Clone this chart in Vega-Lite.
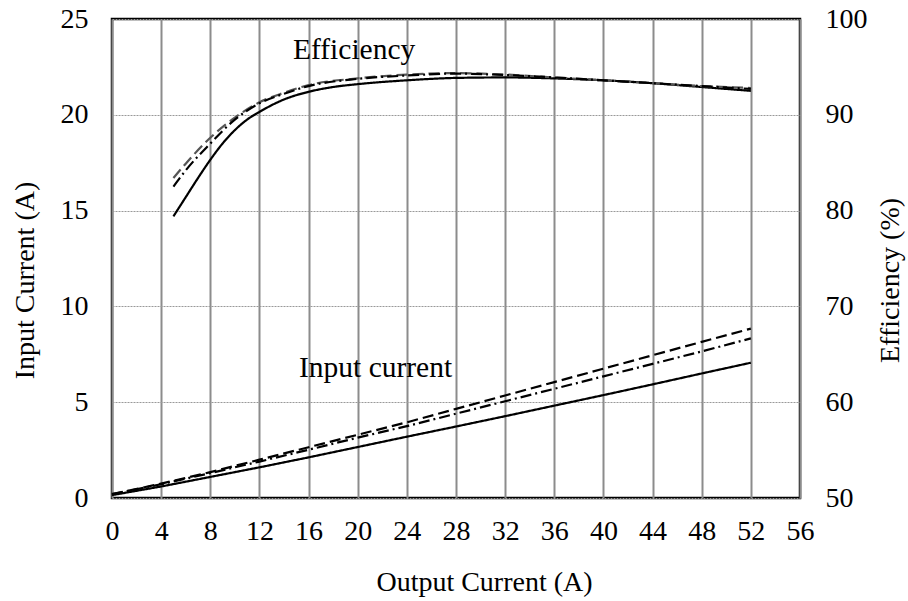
{
  "$schema": "https://vega.github.io/schema/vega-lite/v6.json",
  "width": 688,
  "height": 479,
  "autosize": "none",
  "padding": {"left": 112, "top": 19, "right": 108, "bottom": 103},
  "background": "white",
  "config": {
    "view": {"stroke": "black", "strokeWidth": 2.5},
    "font": "Liberation Serif",
    "axis": {
      "labelFont": "Liberation Serif",
      "labelFontSize": 28,
      "labelColor": "black",
      "labelFlush": false,
      "labelOverlap": false,
      "titleFont": "Liberation Serif",
      "titleFontSize": 28,
      "titleFontWeight": "normal",
      "titleColor": "black",
      "domain": false,
      "ticks": false,
      "tickSize": 0
    }
  },
  "datasets": {
    "cur": [
      {"x": 0, "s": "solid", "v": 0.15}, {"x": 4, "s": "solid", "v": 0.6}, {"x": 8, "s": "solid", "v": 1.1},
      {"x": 12, "s": "solid", "v": 1.6}, {"x": 16, "s": "solid", "v": 2.12}, {"x": 20, "s": "solid", "v": 2.66},
      {"x": 24, "s": "solid", "v": 3.2}, {"x": 28, "s": "solid", "v": 3.73}, {"x": 32, "s": "solid", "v": 4.27},
      {"x": 36, "s": "solid", "v": 4.82}, {"x": 40, "s": "solid", "v": 5.37}, {"x": 44, "s": "solid", "v": 5.93},
      {"x": 48, "s": "solid", "v": 6.5}, {"x": 52, "s": "solid", "v": 7.06},
      {"x": 0, "s": "dash", "v": 0.2}, {"x": 4, "s": "dash", "v": 0.75}, {"x": 8, "s": "dash", "v": 1.35},
      {"x": 12, "s": "dash", "v": 2.0}, {"x": 16, "s": "dash", "v": 2.65}, {"x": 20, "s": "dash", "v": 3.3},
      {"x": 24, "s": "dash", "v": 3.95}, {"x": 28, "s": "dash", "v": 4.65}, {"x": 32, "s": "dash", "v": 5.35},
      {"x": 36, "s": "dash", "v": 6.05}, {"x": 40, "s": "dash", "v": 6.75}, {"x": 44, "s": "dash", "v": 7.45},
      {"x": 48, "s": "dash", "v": 8.15}, {"x": 52, "s": "dash", "v": 8.84},
      {"x": 0, "s": "dashdot", "v": 0.2}, {"x": 4, "s": "dashdot", "v": 0.72}, {"x": 8, "s": "dashdot", "v": 1.3},
      {"x": 12, "s": "dashdot", "v": 1.9}, {"x": 16, "s": "dashdot", "v": 2.52}, {"x": 20, "s": "dashdot", "v": 3.15},
      {"x": 24, "s": "dashdot", "v": 3.75}, {"x": 28, "s": "dashdot", "v": 4.4}, {"x": 32, "s": "dashdot", "v": 5.05},
      {"x": 36, "s": "dashdot", "v": 5.7}, {"x": 40, "s": "dashdot", "v": 6.35}, {"x": 44, "s": "dashdot", "v": 7.0},
      {"x": 48, "s": "dashdot", "v": 7.65}, {"x": 52, "s": "dashdot", "v": 8.33}
    ],
    "eff": [
      {"x": 5, "s": "solid", "v": 79.4}, {"x": 6, "s": "solid", "v": 81.4}, {"x": 7, "s": "solid", "v": 83.4},
      {"x": 8, "s": "solid", "v": 85.3}, {"x": 9, "s": "solid", "v": 87.0}, {"x": 10, "s": "solid", "v": 88.4},
      {"x": 11, "s": "solid", "v": 89.5}, {"x": 12, "s": "solid", "v": 90.3}, {"x": 14, "s": "solid", "v": 91.6},
      {"x": 16, "s": "solid", "v": 92.4}, {"x": 18, "s": "solid", "v": 92.9}, {"x": 20, "s": "solid", "v": 93.2},
      {"x": 24, "s": "solid", "v": 93.6}, {"x": 28, "s": "solid", "v": 93.85}, {"x": 32, "s": "solid", "v": 93.9},
      {"x": 36, "s": "solid", "v": 93.8}, {"x": 40, "s": "solid", "v": 93.6}, {"x": 44, "s": "solid", "v": 93.3},
      {"x": 48, "s": "solid", "v": 92.9}, {"x": 52, "s": "solid", "v": 92.5},
      {"x": 5, "s": "dash", "v": 83.4}, {"x": 6, "s": "dash", "v": 84.9}, {"x": 8, "s": "dash", "v": 87.6},
      {"x": 10, "s": "dash", "v": 89.7}, {"x": 12, "s": "dash", "v": 91.3}, {"x": 14, "s": "dash", "v": 92.3},
      {"x": 16, "s": "dash", "v": 93.1}, {"x": 20, "s": "dash", "v": 93.8}, {"x": 24, "s": "dash", "v": 94.2},
      {"x": 28, "s": "dash", "v": 94.35}, {"x": 32, "s": "dash", "v": 94.2}, {"x": 36, "s": "dash", "v": 93.9},
      {"x": 40, "s": "dash", "v": 93.6}, {"x": 44, "s": "dash", "v": 93.3}, {"x": 48, "s": "dash", "v": 93.0},
      {"x": 52, "s": "dash", "v": 92.8},
      {"x": 5, "s": "dashdot", "v": 82.5}, {"x": 6, "s": "dashdot", "v": 84.2}, {"x": 8, "s": "dashdot", "v": 87.0},
      {"x": 10, "s": "dashdot", "v": 89.5}, {"x": 12, "s": "dashdot", "v": 91.2}, {"x": 14, "s": "dashdot", "v": 92.2},
      {"x": 16, "s": "dashdot", "v": 93.0}, {"x": 20, "s": "dashdot", "v": 93.75}, {"x": 24, "s": "dashdot", "v": 94.1},
      {"x": 28, "s": "dashdot", "v": 94.3}, {"x": 32, "s": "dashdot", "v": 94.15}, {"x": 36, "s": "dashdot", "v": 93.9},
      {"x": 40, "s": "dashdot", "v": 93.6}, {"x": 44, "s": "dashdot", "v": 93.3}, {"x": 48, "s": "dashdot", "v": 93.0},
      {"x": 52, "s": "dashdot", "v": 92.7}
    ],
    "notes": [
      {"x": 14.73, "y": 22.9, "t": "Efficiency"},
      {"x": 15.22, "y": 6.33, "t": "Input current"}
    ]
  },
  "layer": [
    {
      "layer": [
        {
          "data": {"name": "cur"},
          "mark": {"type": "line", "strokeWidth": 2.2},
          "encoding": {
            "x": {
              "field": "x", "type": "quantitative",
              "scale": {"domain": [0, 56], "nice": false},
              "axis": {
                "values": [0, 4, 8, 12, 16, 20, 24, 28, 32, 36, 40, 44, 48, 52, 56],
                "title": "Output Current (A)",
                "grid": true, "gridColor": "#8c8c8c", "gridWidth": 2,
                "labelPadding": 19,
                "titleX": 372, "titleY": 92, "titleAlign": "center", "titleBaseline": "alphabetic"
              }
            },
            "y": {
              "field": "v", "type": "quantitative",
              "scale": {"domain": [0, 25], "nice": false},
              "axis": {
                "values": [0, 5, 10, 15, 20, 25],
                "title": "Input Current (A)",
                "grid": true, "gridColor": "#999999", "gridWidth": 1, "gridDash": [2, 1],
                "labelPadding": 24,
                "titleAngle": 270, "titleX": -79, "titleY": 261, "titleAlign": "center", "titleBaseline": "alphabetic"
              }
            },
            "strokeDash": {
              "field": "s", "type": "nominal",
              "scale": {"domain": ["solid", "dash", "dashdot"], "range": [[1, 0], [11, 5], [11, 4, 2, 4]]},
              "legend": null
            },
            "color": {"value": "black"}
          }
        },
        {
          "data": {"name": "notes"},
          "mark": {"type": "text", "align": "left", "baseline": "alphabetic", "font": "Liberation Serif", "fontSize": 29.5, "color": "black"},
          "encoding": {
            "x": {"field": "x", "type": "quantitative"},
            "y": {"field": "y", "type": "quantitative"},
            "text": {"field": "t", "type": "nominal"}
          }
        }
      ]
    },
    {
      "data": {"name": "eff"},
      "mark": {"type": "line", "strokeWidth": 2.2, "interpolate": "monotone"},
      "encoding": {
        "x": {"field": "x", "type": "quantitative"},
        "y": {
          "field": "v", "type": "quantitative",
          "scale": {"domain": [50, 100], "nice": false},
          "axis": {
            "orient": "right",
            "values": [50, 60, 70, 80, 90, 100],
            "title": "Efficiency (%)",
            "grid": false,
            "labelPadding": 25,
            "titleAngle": 270, "titleX": 98, "titleY": 261, "titleAlign": "center", "titleBaseline": "alphabetic"
          }
        },
        "strokeDash": {
          "field": "s", "type": "nominal",
          "scale": {"domain": ["solid", "dash", "dashdot"], "range": [[1, 0], [11, 5], [11, 4, 2, 4]]},
          "legend": null
        },
        "color": {
          "field": "s", "type": "nominal",
          "scale": {"domain": ["solid", "dash", "dashdot"], "range": ["black", "#555555", "black"]},
          "legend": null
        }
      }
    }
  ],
  "resolve": {"scale": {"y": "independent"}}
}
